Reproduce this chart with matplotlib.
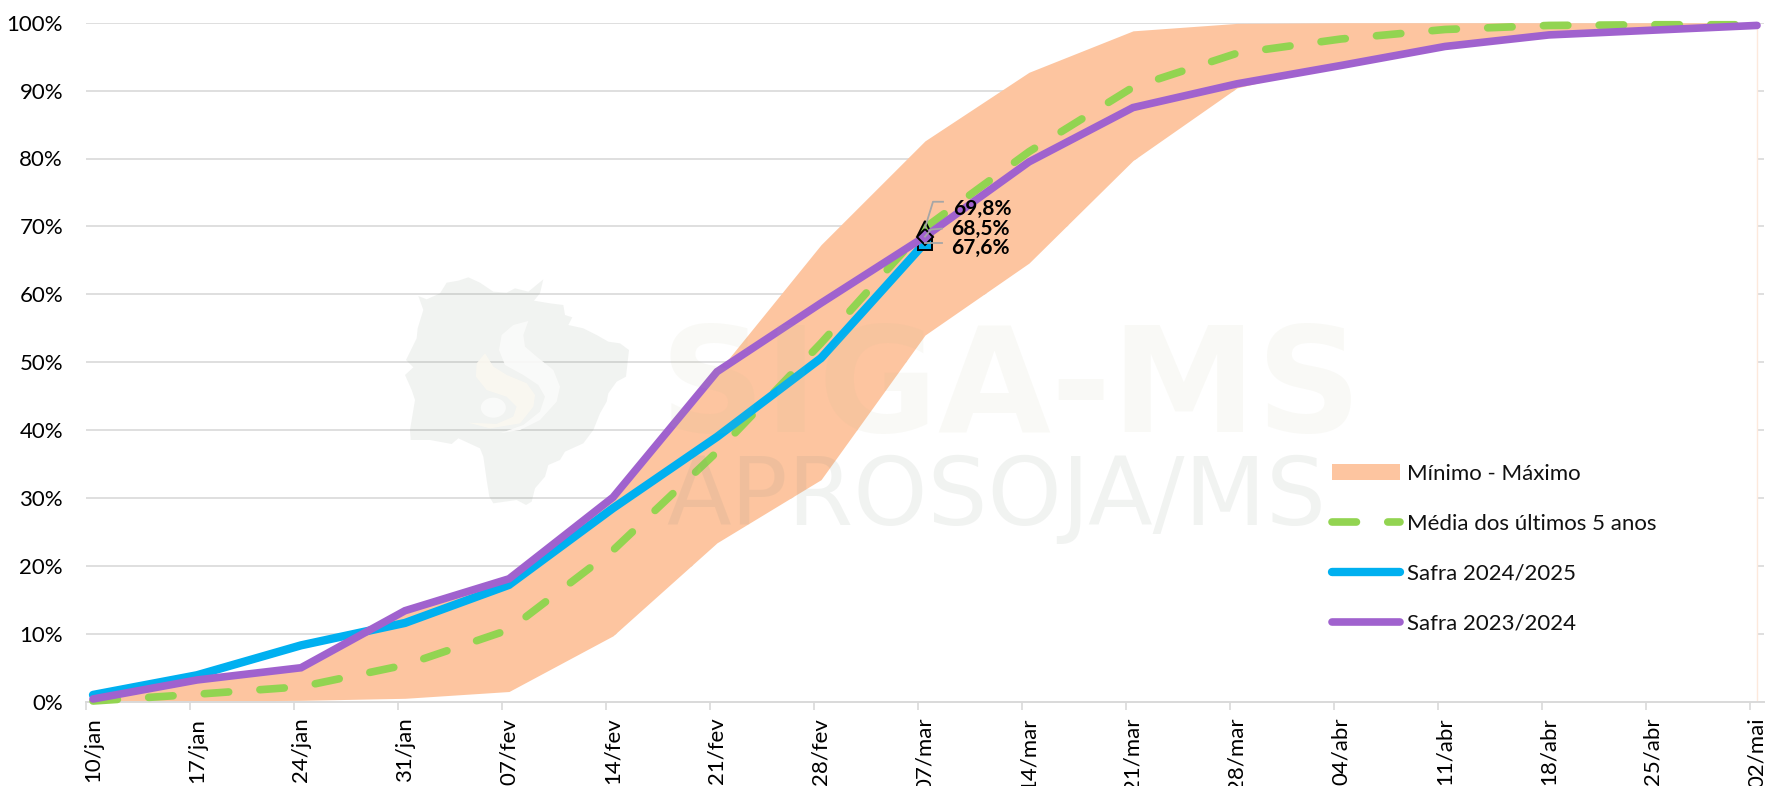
import matplotlib
matplotlib.use('Agg')
import matplotlib.pyplot as plt
from matplotlib.patches import Polygon, Ellipse
from matplotlib.ticker import FixedLocator, FixedFormatter

W, H = 1770, 786

dates = ['10/jan', '17/jan', '24/jan', '31/jan', '07/fev', '14/fev', '21/fev', '28/fev', '07/mar',
         '14/mar', '21/mar', '28/mar', '04/abr', '11/abr', '18/abr', '25/abr', '02/mai']
band_min = [0.0, 0.1, 0.2, 0.5, 1.5, 9.7, 23.4, 32.7, 54.0, 64.6, 79.7, 90.4, 94.0, 97.0, 98.5, 99.0, 99.6]
band_max = [0.5, 3.0, 4.7, 13.0, 18.0, 30.0, 48.4, 67.3, 82.6, 92.7, 98.8, 99.9, 100.0, 100.0, 100.0, 100.0, 100.0]
media = [0.1, 1.1, 2.2, 5.4, 10.6, 22.3, 36.8, 52.8, 69.8, 81.0, 90.5, 95.5, 97.6, 99.0, 99.6, 99.7, 99.7]
safra_2425 = [1.0, 3.9, 8.3, 11.6, 17.2, 28.5, 39.0, 50.6, 67.6]
safra_2324 = [0.4, 3.2, 5.0, 13.4, 18.1, 30.1, 48.6, 58.7, 68.5, 79.5, 87.5, 91.0, 93.7, 96.5, 98.2, 98.9, 99.6]
yticks = [0, 10, 20, 30, 40, 50, 60, 70, 80, 90, 100]

# watermark outlines, in crop pixels of the logo
map_outline = [(85,108),(110,118),(150,100),(170,68),(205,62),(235,52),(270,68),(310,95),(350,98),(375,85),
               (415,95),(460,58),(450,100),(432,122),(480,130),(520,135),(525,165),(547,172),(535,195),(580,205),
               (620,225),(655,245),(690,250),(717,270),(708,350),(680,365),(655,400),(650,425),(630,460),(610,510),
               (580,550),(525,575),(510,600),(475,615),(465,650),(435,685),(425,725),(408,735),(380,720),(310,730),
               (298,710),(290,660),(280,590),(270,565),(205,535),(185,552),(120,540),(62,540),(60,510),(75,420),
               (65,390),(45,345),(70,322),(48,300),(80,235),(83,205),(100,150)]
swirl_white = [(415,183),(370,195),(335,225),(327,270),(345,315),(400,345),(445,375),(465,410),(450,455),(400,495),
               (330,520),(390,510),(450,480),(500,425),(510,380),(490,330),(440,290),(405,260),(400,225)]
swirl_cream = [(285,280),(260,310),(258,350),(290,390),(350,410),(380,440),(370,470),(320,492),(235,488),(300,505),
               (390,490),(430,440),(435,405),(410,370),(350,345),(310,320)]

plt.rcParams['font.family'] = ['Lato', 'DejaVu Sans']

fig = plt.figure(figsize=(W / 100, H / 100), dpi=100)
ax = fig.add_axes([86 / W, 1 - 701.7 / H, (1764 - 86) / W, (701.7 - 22.7) / H])

x = list(range(len(dates)))
tick_shift = 7 / 104
ax.set_xlim(-tick_shift, 16 + 7 / 104)
ax.set_ylim(0, 100)

ax.grid(axis='y', color='#D9D9D9', lw=1.2, zorder=1)
ax.set_axisbelow(True)

ax.fill_between(x, 0, band_min, color='white', lw=0, zorder=2)
ax.fill_between(x, band_min, band_max, color='#FDC5A0', lw=0, zorder=2, label='Mínimo - Máximo')
ax.axvline(x[-1], color='#FDE9DC', lw=1, zorder=2)

ax.plot(x, media, color='#92D451', lw=5.5, dashes=(3.2, 4.1), dash_capstyle='round', dash_joinstyle='round',
        zorder=3, clip_on=False, label='Média dos últimos 5 anos')
ax.plot(x[:len(safra_2425)], safra_2425, color='#00B0F0', lw=6, solid_capstyle='round', solid_joinstyle='miter',
        zorder=4, clip_on=False, label='Safra 2024/2025')
ax.plot(x, safra_2324, color='#A062CE', lw=5.5, solid_capstyle='round', solid_joinstyle='miter',
        zorder=5, clip_on=False, label='Safra 2023/2024')

# markers on the current week
k = len(safra_2425) - 1
ax.plot(k, media[k], '^', ms=10, mfc='#92D451', mec='black', mew=1.4, zorder=4.5)
ax.plot(k, safra_2425[k], 's', ms=10, mfc='#00B0F0', mec='black', mew=1.4, zorder=4.6)
ax.plot(k, safra_2324[k], 'D', ms=8, mfc='#A062CE', mec='black', mew=1.4, zorder=5.5)

# data labels and their leader lines
lab = dict(textcoords='offset pixels', fontsize=15, fontweight='bold', color='black', va='center', ha='left',
           annotation_clip=False, zorder=7)
ax.annotate('69,8%', (k, media[k]), xytext=(28, 19), **lab)
ax.annotate('68,5%', (k, safra_2324[k]), xytext=(26, 8), **lab)
ax.annotate('67,6%', (k, safra_2425[k]), xytext=(26, -5), **lab)
for val, dxy, elbow in [(media[k], (18, 26), (8, 26)), (safra_2324[k], (17, 8), (6, 7)), (safra_2425[k], (17, 0), (4, 0))]:
    x0, y0 = ax.transData.transform((k, val))
    ax.plot([x0, x0 + elbow[0], x0 + dxy[0]], [y0, y0 + elbow[1], y0 + dxy[1]], transform=None,
            color='#A6A6A6', lw=1.3, zorder=6)

for s in ['top', 'left', 'right']:
    ax.spines[s].set_visible(False)
ax.spines['bottom'].set_color('#D9D9D9')
ax.spines['bottom'].set_linewidth(1.4)
ax.spines['bottom'].set_zorder(2.5)

ax.set_yticks(yticks)
ax.set_yticklabels([str(v) + '%' for v in yticks])
ax.tick_params(axis='y', length=0, pad=16.5, labelsize=16, labelcolor='black')

ax.xaxis.set_major_locator(FixedLocator([i - tick_shift for i in x]))
ax.xaxis.set_major_formatter(FixedFormatter([''] * len(x)))
ax.xaxis.set_minor_locator(FixedLocator(x))
ax.xaxis.set_minor_formatter(FixedFormatter(dates))
ax.tick_params(axis='x', which='major', length=6, width=1.2, color='#D9D9D9')
ax.tick_params(axis='x', which='minor', length=0, pad=11.5, labelsize=16, labelcolor='black', labelrotation=90)

leg = ax.legend(loc='upper left', bbox_to_anchor=(1332 / W, 1 - 464 / H), bbox_transform=fig.transFigure,
                frameon=False, fontsize=16, handlelength=3.06, handletextpad=0.3, labelspacing=1.34,
                borderpad=0, borderaxespad=0, labelcolor='#111111')
leg.set_zorder(8)

# watermark
def to_fig(pts):
    return [((px / 3 + 390) / W, 1 - (py / 3 + 260) / H) for px, py in pts]

fig.add_artist(Polygon(to_fig(map_outline), closed=True, fc='#7A8A7A', alpha=0.1, lw=0, transform=fig.transFigure, zorder=6))
fig.add_artist(Polygon(to_fig(swirl_cream), closed=True, fc='#FBF8F0', alpha=0.9, lw=0, transform=fig.transFigure, zorder=6))
fig.add_artist(Polygon(to_fig(swirl_white), closed=True, fc='#FBFBFA', alpha=0.9, lw=0, transform=fig.transFigure, zorder=6))
fig.add_artist(Ellipse(to_fig([(310, 443)])[0], 25 / W, 20 / H, fc='#FBFBFA', alpha=0.9, lw=0, transform=fig.transFigure, zorder=6))
fig.text(1011 / W, 1 - 376 / H, 'SIGA-MS', family='DejaVu Sans', fontweight='bold', fontsize=105, color='#B9B98F',
         alpha=0.08, ha='center', va='center_baseline', zorder=6)
fig.text(996 / W, 1 - 489 / H, 'APROSOJA/MS', family='DejaVu Sans', fontsize=68, color='#7A8A7A',
         alpha=0.1, ha='center', va='center_baseline', zorder=6)

fig.savefig('out.png', dpi=100)
